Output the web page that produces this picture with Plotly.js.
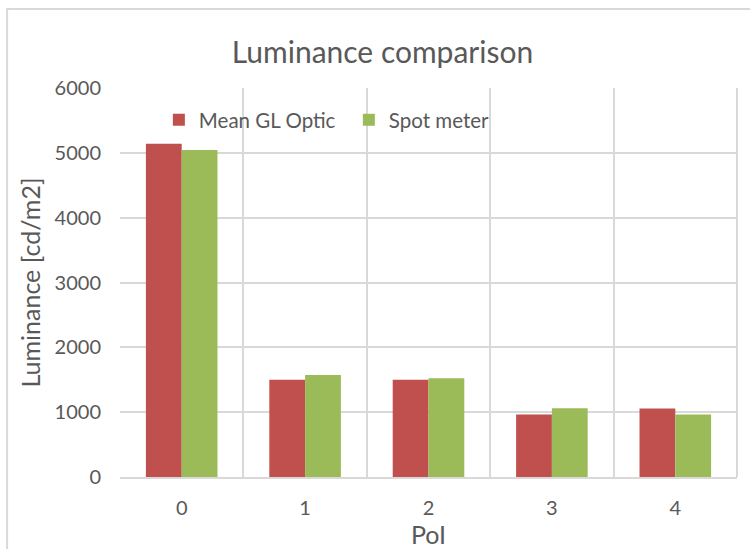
<!DOCTYPE html>
<html><head><meta charset="utf-8">
<script src="https://cdn.plot.ly/plotly-3.0.1.min.js"></script>
<style>body{margin:0;background:#fff}#chart{width:750px;height:549px}</style>
</head><body><div id="chart"></div>
<script>
const categories = ["0","1","2","3","4"];
const meanGL = [5140, 1500, 1500, 965, 1055];
const spotMeter = [5045, 1572, 1525, 1062, 965];
const yTicks = [0,1000,2000,3000,4000,5000,6000];

const fontFam = "Lato, 'Open Sans', sans-serif";
const txt = "#595959";
const data = [
  {type:"bar", name:"Mean GL Optic", x:categories, y:meanGL, marker:{color:"#c0504d", line:{width:0}}},
  {type:"bar", name:"Spot meter", x:categories, y:spotMeter, marker:{color:"#9bbb59", line:{width:0}}}
];
const layout = {
  width:750, height:549,
  margin:{l:120, r:13, t:88, b:72},
  paper_bgcolor:"#fff", plot_bgcolor:"#fff",
  font:{family:fontFam, color:txt, size:20},
  title:{text:"Luminance comparison", font:{size:30, color:txt, family:fontFam}, x:0.51, xanchor:"center", y:0.905, yanchor:"middle"},
  barmode:"group", bargap:0.42, bargroupgap:0,
  showlegend:true,
  legend:{orientation:"h", x:0.063, xanchor:"left", y:0.918, yanchor:"middle", bgcolor:"rgba(0,0,0,0)", font:{size:20.5, color:txt}, entrywidth:145, itemwidth:30},
  xaxis:{type:"category", tickson:"boundaries", showgrid:true, gridcolor:"#d9d9d9", gridwidth:2,
    showline:true, linecolor:"#d9d9d9", linewidth:2, mirror:false, ticks:"", ticklen:0, ticklabelstandoff:12,
    tickfont:{size:20, color:txt}, title:{text:"PoI", font:{size:25, color:txt}, standoff:6}, zeroline:false},
  yaxis:{range:[0,6000], tickvals:yTicks, showgrid:true, gridcolor:"#d9d9d9", gridwidth:2,
    zeroline:false, showline:false, ticks:"", ticklabelstandoff:18, tickfont:{size:20, color:txt},
    title:{text:"Luminance [cd/m2]", font:{size:25, color:txt}, standoff:6}},
  shapes:[
    {type:"rect", xref:"paper", yref:"paper", x0:-0.183, x1:1.2, y0:-0.4, y1:1.203, line:{color:"#d9d9d9", width:2}, fillcolor:"rgba(0,0,0,0)", layer:"below"},
    {type:"line", xref:"paper", yref:"paper", x0:1, x1:1, y0:0, y1:1, line:{color:"#d9d9d9", width:2}}
  ]
};
Plotly.newPlot("chart", data, layout, {displayModeBar:false, staticPlot:true});
</script></body></html>
